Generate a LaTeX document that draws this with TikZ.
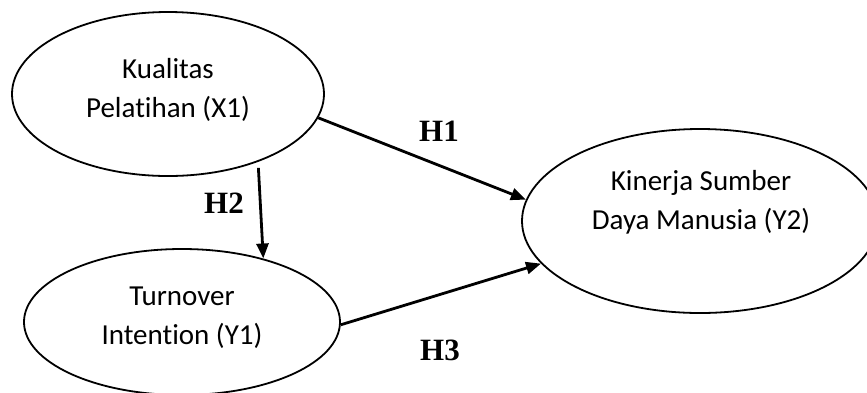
\documentclass[tikz,border=0pt]{standalone}
\usepackage{fontspec}
\setmainfont{Carlito}[Ligatures=CommonOff]
\newfontfamily\hfont{Liberation Serif}
\usetikzlibrary{shapes.geometric,arrows.meta}
\begin{document}
\begin{tikzpicture}[x=1pt,y=-1pt,
  latent/.style={draw, ellipse, line width=1.8pt, inner sep=0pt},
  vartext/.style={align=center, inner sep=0pt, font=\fontsize{29}{39}\selectfont},
  hyp/.style={inner sep=0pt, font=\hfont\bfseries\fontsize{31}{31}\selectfont},
  pathline/.style={line width=2.8pt, -{Triangle[length=15pt,width=12pt]}}]
\clip (0,0) rectangle (867,392);
\useasboundingbox (0,0) rectangle (867,392);
% latent variables
\node[latent, minimum width=312pt, minimum height=164pt] (x1) at (168,94) {};
\node[latent, minimum width=316pt, minimum height=146pt] (y1) at (182,322) {};
\node[latent, minimum width=356pt, minimum height=184pt] (y2) at (700,221) {};
% texts
\node[vartext] (x1t) at (168,90) {Kualitas\\Pelatihan (X1)};
\node[vartext] (y1t) at (182,318) {Turnover\\Intention (Y1)};
\node[vartext] (y2t) at (701,202) {Kinerja Sumber\\Daya Manusia (Y2)};
% paths
\draw[pathline] (x1.-9.1) -- (y2.173.8);
\draw[pathline, shorten <=6pt] (x1.-37.1) -- (y1.38.6);
\draw[pathline] (y1.-1.1) -- (y2.-165.4);
% hypothesis labels
\node[hyp] (h1) at (439,131) {H1};
\node[hyp] (h2) at (224,203) {H2};
\node[hyp] (h3) at (440,350) {H3};
\end{tikzpicture}
\end{document}
